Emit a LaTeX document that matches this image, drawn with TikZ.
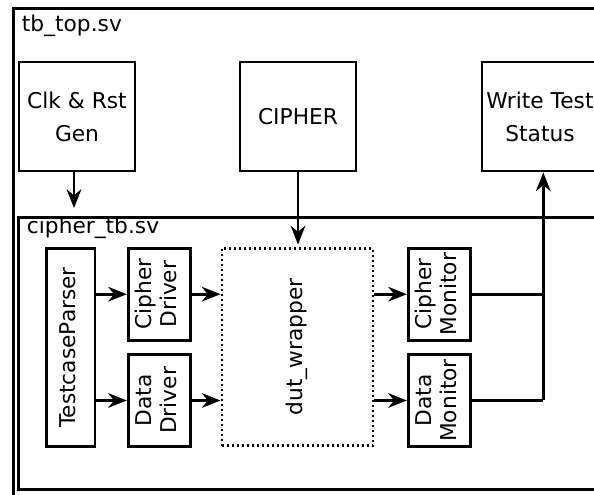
\documentclass[tikz,border=0pt]{standalone}
\usepackage{fontspec}
\setmainfont{DejaVu Sans}
\usetikzlibrary{arrows.meta}

% vertical (rotated) multi-line label
\newcommand\vlabel[1]{\rotatebox{90}{\begin{tabular}{@{}c@{}}#1\end{tabular}}}

\begin{document}
\begin{tikzpicture}[x=0.75pt,y=-0.75pt,
  line width=2.2pt,
  box/.style={draw, line width=2.2pt, inner sep=0pt, align=center,
    font=\fontsize{16.3}{24.75}\selectfont},
  vbox/.style={draw, line width=2.2pt, inner sep=0pt,
    font=\fontsize{16.3}{18.75}\selectfont},
  frame/.style={draw, line width=2.2pt, inner sep=0pt, anchor=north west},
  title/.style={anchor=base west, inner sep=0pt, font=\fontsize{16.3}{19}\selectfont},
  arr/.style={-{Stealth[length=14pt,width=11pt,inset=4.5pt]}},
  wire/.style={line width=2.2pt}]
\useasboundingbox (0,0) rectangle (594,495);
\clip (0,0) rectangle (594,495);

% outer testbench frame
\node[frame, minimum width=465pt, minimum height=380pt] (top) at (12,7) {};
\node[title] (toplbl) at (20.5,32) {tb\_top.sv};

% top-level blocks
\node[box, minimum width=87pt, minimum height=81.75pt] (clk) at (77,116.5) {Clk \& Rst\\Gen};
\node[box, minimum width=87pt, minimum height=81.75pt] (cipher) at (298,116.5) {CIPHER};
\node[box, minimum width=87pt, minimum height=81.75pt] (status) at (540,116.5) {Write Test\\Status};

% inner testbench frame
\node[frame, minimum width=460pt, minimum height=204pt] (inner) at (17,216) {};
\node[title] (innerlbl) at (25.5,234) {cipher\_tb.sv};

% inner blocks
\node[vbox, minimum width=36.25pt, minimum height=148.8pt] (parser) at (70.8,347.5) {\vlabel{TestcaseParser}};
\node[vbox, minimum width=46.8pt, minimum height=68.8pt] (cdrv) at (159.5,294.2) {\vlabel{Cipher\\Driver}};
\node[vbox, minimum width=46.8pt, minimum height=69.3pt] (ddrv) at (159.5,400.5) {\vlabel{Data\\Driver}};
\node[vbox, line width=1.8pt, dash pattern=on 1.5pt off 2.25pt, minimum width=113.25pt, minimum height=148pt] (dut) at (297.2,347) {\vlabel{dut\_wrapper}};
\node[vbox, minimum width=46.3pt, minimum height=68.8pt] (cmon) at (439.2,294.2) {\vlabel{Cipher\\Monitor}};
\node[vbox, minimum width=46.3pt, minimum height=69.3pt] (dmon) at (439.2,400.5) {\vlabel{Data\\Monitor}};

% collection bus towards the status block
\coordinate (bus) at (543.3,293.5);

% connectors
\draw[arr] ([xshift=-2.25pt]clk.south) -- ([xshift=-2.25pt,yshift=6pt]clk.south |- inner.north);
\draw[arr] (cipher.south) -- ([yshift=2pt]cipher.south |- dut.north);
\draw[arr] (cdrv.west -| parser.east) -- (cdrv.west);
\draw[arr] (ddrv.west -| parser.east) -- (ddrv.west);
\draw[arr] (cdrv.east) -- (cdrv.east -| dut.west);
\draw[arr] (ddrv.east) -- (ddrv.east -| dut.west);
\draw[arr] (cmon.west -| dut.east) -- (cmon.west);
\draw[arr] (dmon.west -| dut.east) -- (dmon.west);
\draw[wire] (cmon.east) -- (cmon.east -| bus);
\draw[wire] (dmon.east) -- (dmon.east -| bus);
\draw[arr] (dmon.east -| bus) -- (bus |- status.south);
\end{tikzpicture}
\end{document}
